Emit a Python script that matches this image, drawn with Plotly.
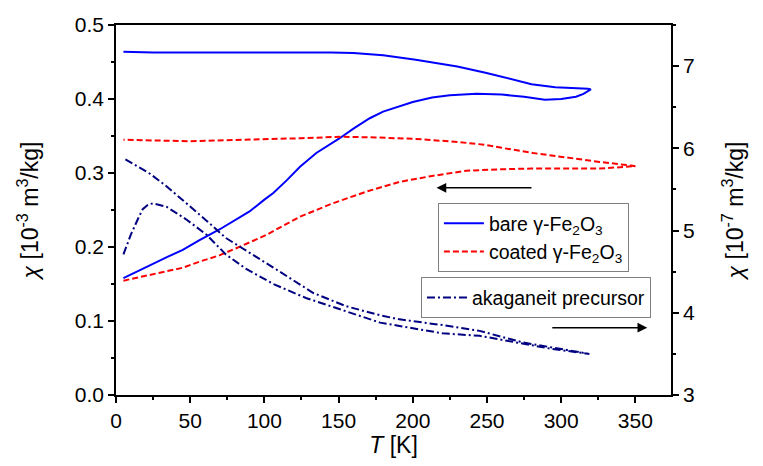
import plotly.graph_objects as go

# Bare gamma-Fe2O3: ZFC branch (warming) followed by FC branch (cooling), left axis
bare_T = [5, 15, 25, 35, 45, 56, 70, 80, 90, 100, 106, 115, 124, 135, 150, 160, 171, 180,
          190, 200, 213, 225, 243, 260, 275, 289, 300, 310, 315, 319,
          320, 318, 305, 296, 280, 265, 249, 230, 202, 180, 160, 145, 120, 100, 75, 50, 25, 5]
bare_chi = [0.158, 0.168, 0.178, 0.187, 0.196, 0.209, 0.224, 0.236, 0.248, 0.264, 0.273, 0.290,
            0.3085, 0.327, 0.346, 0.360, 0.374, 0.383, 0.390, 0.396, 0.402, 0.405, 0.407, 0.406,
            0.403, 0.399, 0.400, 0.403, 0.407, 0.411,
            0.413, 0.414, 0.415, 0.416, 0.420, 0.428, 0.4355, 0.444, 0.453, 0.459, 0.462,
            0.463, 0.463, 0.463, 0.463, 0.462, 0.463, 0.464]

# Coated gamma-Fe2O3: ZFC then FC, left axis
coated_T = [5, 23, 45, 56, 70, 83, 101, 124, 146, 169, 191, 213, 236, 258, 280, 303, 326, 348,
            350, 347, 326, 303, 281, 260, 249, 230, 202, 175, 152, 125, 100, 75, 50, 25, 5]
coated_chi = [0.1545, 0.162, 0.172, 0.180, 0.189, 0.200, 0.216, 0.241, 0.259, 0.275, 0.288,
              0.296, 0.303, 0.305, 0.306, 0.306, 0.306, 0.309,
              0.309, 0.310, 0.315, 0.321, 0.327, 0.334, 0.338, 0.342, 0.346, 0.348, 0.349,
              0.347, 0.346, 0.344, 0.343, 0.344, 0.345]

# Akaganeite precursor: ZFC then FC, right axis (10^-7 m^3/kg)
aka_T = [5, 10, 15, 18, 22, 25, 34, 47, 61, 74, 88, 106, 128, 155, 178, 191, 220, 245, 274,
         294, 319,
         300, 274, 245, 220, 191, 178, 155, 133, 106, 88, 74, 61, 47, 34, 23, 5]
aka_chi = [4.71, 4.95, 5.15, 5.26, 5.32, 5.33, 5.29, 5.14, 4.95, 4.71, 4.53, 4.35, 4.18, 4.02,
           3.88, 3.84, 3.75, 3.72, 3.62, 3.56, 3.50,
           3.56, 3.64, 3.78, 3.85, 3.92, 3.97, 4.08, 4.24, 4.55, 4.75, 4.91, 5.12, 5.34, 5.54,
           5.69, 5.88]

FONT = "Liberation Sans"

fig = go.Figure()
fig.add_trace(go.Scatter(x=bare_T, y=bare_chi, mode="lines", name="bare γ-Fe<sub>2</sub>O<sub>3</sub>",
                         line=dict(color="#0000FF", width=2), legend="legend"))
fig.add_trace(go.Scatter(x=coated_T, y=coated_chi, mode="lines", name="coated γ-Fe<sub>2</sub>O<sub>3</sub>",
                         line=dict(color="#FF0000", width=2, dash="6px,3px"), legend="legend"))
fig.add_trace(go.Scatter(x=aka_T, y=aka_chi, mode="lines", name="akaganeit precursor",
                         line=dict(color="#000080", width=2, dash="8px,3px,2px,3px"),
                         yaxis="y2", legend="legend2"))

axis_common = dict(showline=True, linecolor="black", linewidth=1.5, ticks="outside",
                   ticklen=6, tickwidth=1.5, tickcolor="black", showgrid=False, zeroline=False,
                   automargin=False,
                   tickfont=dict(family=FONT, size=21, color="black"))
minor_common = dict(ticklen=3, ticks="outside", tickcolor="black", tickwidth=1.5)
title_font = dict(family=FONT, size=23, color="black")

fig.update_layout(
    width=763, height=466,
    margin=dict(l=116, r=92, t=25, b=71),
    paper_bgcolor="white", plot_bgcolor="white",
    font=dict(family=FONT, size=20, color="black"),
    xaxis=dict(range=[0, 374], dtick=50, tick0=0, mirror=True,
               minor=dict(dtick=25, **minor_common),
               title=dict(text="<i>T</i> [K]", font=title_font, standoff=0),
               **axis_common),
    yaxis=dict(range=[0, 0.5], dtick=0.1, tick0=0, tickformat=".1f",
               minor=dict(dtick=0.05, **minor_common),
               title=dict(text="<i>χ</i> [10<sup>-3</sup> m<sup>3</sup>/kg]", font=title_font, standoff=30),
               **axis_common),
    yaxis2=dict(range=[3, 7.5], dtick=1, tick0=3, overlaying="y", side="right",
                minor=dict(dtick=0.5, **minor_common),
                title=dict(text="<i>χ</i> [10<sup>-7</sup> m<sup>3</sup>/kg]", font=title_font, standoff=33),
                **axis_common),
    legend=dict(x=0.580, y=0.519, xanchor="left", yanchor="top", bgcolor="white",
                bordercolor="#808080", borderwidth=1, font=dict(family=FONT, size=19.5),
                tracegroupgap=0, itemwidth=40),
    legend2=dict(x=0.5495, y=0.318, xanchor="left", yanchor="top", bgcolor="rgba(0,0,0,0)",
                 bordercolor="#808080", borderwidth=1, font=dict(family=FONT, size=19.5),
                 itemwidth=40),
)

# Arrows marking which axis each group of curves belongs to
fig.add_annotation(x=216, y=0.28, ax=281, ay=0.28, xref="x", yref="y", axref="x", ayref="y",
                   text="", showarrow=True, arrowhead=2, arrowsize=1.3, arrowwidth=1.5,
                   arrowcolor="black")
fig.add_annotation(x=358, y=0.091, ax=293, ay=0.091, xref="x", yref="y", axref="x", ayref="y",
                   text="", showarrow=True, arrowhead=2, arrowsize=1.3, arrowwidth=1.5,
                   arrowcolor="black")

fig.write_html("out.html")
